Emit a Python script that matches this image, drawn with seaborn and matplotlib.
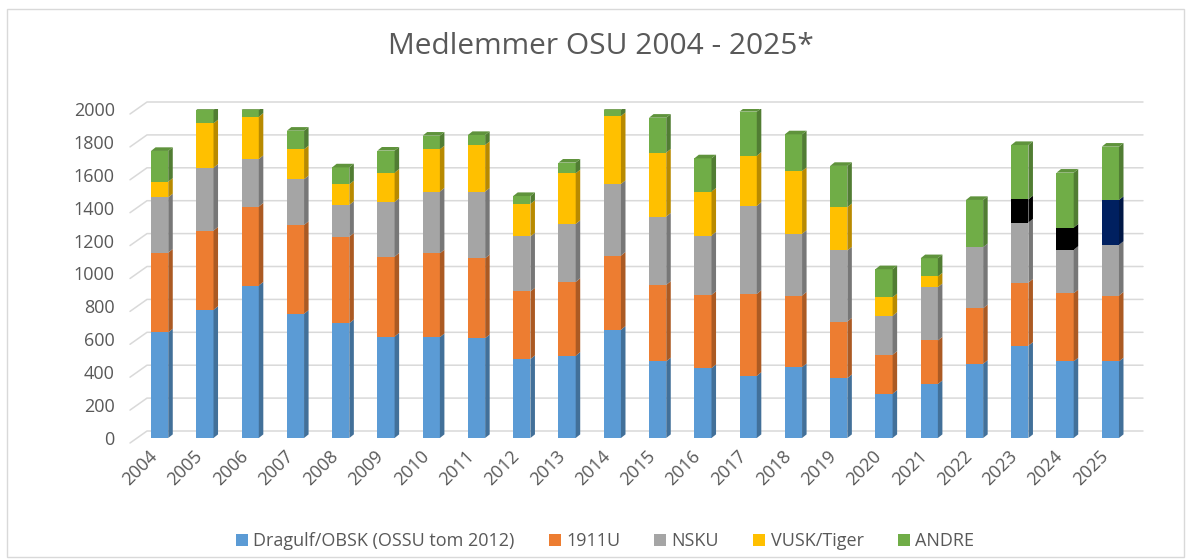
import numpy as np
import matplotlib
matplotlib.use("Agg")
import matplotlib.pyplot as plt
import seaborn as sns
from matplotlib.patches import Polygon, Rectangle, Patch
from matplotlib.lines import Line2D
from matplotlib.transforms import IdentityTransform, ScaledTranslation
import matplotlib.colors as mcolors

# --- data ---
years = ["2004", "2005", "2006", "2007", "2008", "2009", "2010", "2011", "2012", "2013", "2014",
         "2015", "2016", "2017", "2018", "2019", "2020", "2021", "2022", "2023", "2024", "2025"]
dragulf = [642, 779, 927, 755, 698, 617, 613, 607, 480, 500, 658,
           466, 425, 378, 431, 364, 269, 328, 451, 561, 466, 466]
u1911 = [485, 482, 480, 540, 526, 486, 510, 486, 411, 449, 451,
         465, 445, 498, 435, 344, 237, 265, 338, 384, 414, 400]
nsku = [336, 382, 289, 278, 193, 332, 375, 405, 334, 352, 435,
        415, 361, 535, 375, 432, 237, 324, 371, 365, 264, 308]
vusk = [95, 270, 257, 182, 125, 178, 257, 283, 198, 308, 413,
        389, 267, 305, 382, 263, 113, 65, 0, 0, 0, 0]
# unnamed segment in the last three years (no legend entry)
ekstra = [0, 0, 0, 0, 0, 0, 0, 0, 0, 0, 0,
          0, 0, 0, 0, 0, 0, 0, 0, 141, 135, 273]
andre = [187, 82, 42, 113, 103, 134, 83, 61, 48, 65, 38,
         212, 202, 268, 223, 251, 170, 111, 287, 330, 334, 324]

series_names = ["Dragulf/OBSK (OSSU tom 2012)", "1911U", "NSKU", "VUSK/Tiger", "", "ANDRE"]
series_vals = [dragulf, u1911, nsku, vusk, ekstra, andre]
series_colors = ["#5B9BD5", "#ED7D31", "#A5A5A5", "#FFC000", "#000000", "#70AD47"]
# 2025 uses navy for the unnamed segment, the others black
ekstra_colors = {"2025": "#002060"}

TXT = "#595959"
W, H = 1190, 559

sns.set_theme(style="white")
plt.rcParams["font.family"] = ["Open Sans", "DejaVu Sans"]

fig = plt.figure(figsize=(W / 100, H / 100), dpi=100)
ax = fig.add_axes([137 / W, (H - 438) / H, 996 / W, 329 / H])
ax.patch.set_visible(False)


def shade(c, f):
    r, g, b = mcolors.to_rgb(c)
    return (r * f, g * f, b * f)


dx, dy = 0.1, 22  # depth of the fake 3D bars (data units)
bottom = np.zeros(len(years))
top_color = [None] * len(years)
for name, vals, col in zip(series_names, series_vals, series_colors):
    vals = np.array(vals, dtype=float)
    sns.barplot(x=years, y=vals, bottom=bottom, color=col, saturation=1,
                width=0.38, errorbar=None, linewidth=0, ax=ax)
    bars = ax.containers[-1]
    if name == "":
        for p, yr in zip(bars, years):
            if yr in ekstra_colors:
                p.set_facecolor(ekstra_colors[yr])
    for i, p in enumerate(bars):
        h = p.get_height()
        if h <= 0:
            continue
        x0, y0, w = p.get_x(), p.get_y(), p.get_width()
        fc = p.get_facecolor()
        ax.add_patch(Polygon([(x0 + w, y0), (x0 + w + dx, y0 + dy),
                              (x0 + w + dx, y0 + h + dy), (x0 + w, y0 + h)],
                             closed=True, facecolor=shade(fc, 0.72), edgecolor="none"))
        top_color[i] = fc
    bottom = bottom + vals

# top faces on the highest segment of each bar
for i, p in enumerate(ax.containers[-1]):
    x0, w = p.get_x(), p.get_width()
    t = bottom[i]
    ax.add_patch(Polygon([(x0, t), (x0 + dx, t + dy), (x0 + w + dx, t + dy), (x0 + w, t)],
                         closed=True, facecolor=shade(top_color[i], 0.85), edgecolor="none"))

yticks = list(range(0, 2001, 200))
ax.set_xlim(-0.5, 21.5)
ax.set_ylim(0, 2000)
ax.set_yticks(yticks)
ax.set_xlabel("")
ax.set_ylabel("")
for s in ax.spines.values():
    s.set_visible(False)
ax.tick_params(axis="y", length=0, pad=16, labelsize=13, labelcolor=TXT)
ax.tick_params(axis="x", length=0, pad=11, labelsize=13, labelcolor=TXT)
for lab in ax.get_xticklabels():
    lab.set_rotation(45)
    lab.set_ha("right")
    lab.set_va("center")
    lab.set_rotation_mode("anchor")
    lab.set_transform(lab.get_transform() + ScaledTranslation(-0.05, 0, fig.dpi_scale_trans))

# back-wall gridlines with a short slanted side-wall piece (pixel coords)
fig.canvas.draw()
for v in yticks:
    xl, yv = ax.transData.transform((-0.5, v))
    xr, _ = ax.transData.transform((21.5, v))
    xs = [xl - 7, xl + 10, xr + 10]
    ys = [yv - 5, yv + 7, yv + 7]
    ax.add_line(Line2D(xs, ys, transform=IdentityTransform(), color="#D9D9D9",
                       lw=1.1, zorder=0, clip_on=False))
ax.set_xlim(-0.5, 21.5)
ax.set_ylim(0, 2000)

fig.text(601 / W, 1 - 47 / H, "Medlemmer OSU 2004 - 2025*", ha="center", va="center",
         fontsize=21.5, color=TXT)

handles = [Patch(facecolor=c, edgecolor="none") for n, c in zip(series_names, series_colors) if n]
labels = [n for n in series_names if n]
fig.legend(handles, labels, loc="center", bbox_to_anchor=(605 / W, 1 - 541 / H), ncol=5,
           frameon=False, fontsize=13, handlelength=0.65, handleheight=0.65,
           handletextpad=0.3, columnspacing=1.9, labelcolor=TXT)

fig.add_artist(Rectangle((7 / W, 2 / H), 1177 / W, 548 / H, transform=fig.transFigure,
                         fill=False, edgecolor="#D9D9D9", lw=1))

fig.savefig("out.png", dpi=100)
